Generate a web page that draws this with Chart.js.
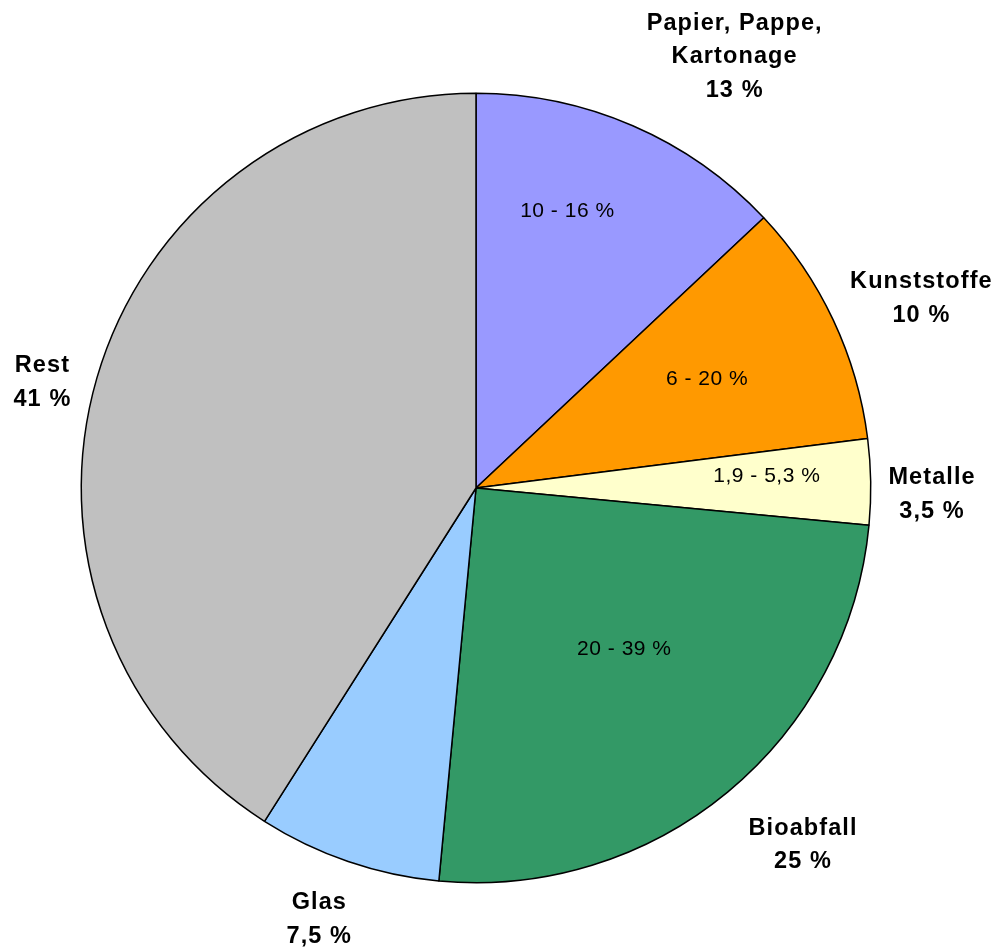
<!DOCTYPE html>
<html>
<head>
<meta charset="utf-8">
<script src="https://cdn.jsdelivr.net/npm/chart.js@4/dist/chart.umd.min.js"></script>
<style>
html,body{margin:0;padding:0;background:#fff;}
#wrap{width:996px;height:951px;}
</style>
</head>
<body>
<div id="wrap"><canvas id="c" width="996" height="951"></canvas></div>
<script>
// ---- data ----
const categories = [['Papier, Pappe,', 'Kartonage'], ['Kunststoffe'], ['Metalle'], ['Bioabfall'], ['Glas'], ['Rest']];
const shares = [13, 10, 3.5, 25, 7.5, 41];
const shareLabels = ['13 %', '10 %', '3,5 %', '25 %', '7,5 %', '41 %'];
const rangeLabels = ['10 - 16 %', '6 - 20 %', '1,9 - 5,3 %', '20 - 39 %', '', ''];

// ---- style / layout ----
const colors = ['#9999FF', '#FF9900', '#FFFFCC', '#339966', '#99CCFF', '#C0C0C0'];
// label placement relative to slice mid-angle: [angle offset in degrees, radius factor]
const outerPlace = [[7.4, 1.277], [1.9, 1.227], [1.5, 1.154], [-3.0, 1.222], [1.2, 1.159], [-2.3, 1.133]];
const innerPlace = [[-5.3, 0.743], [-0.3, 0.648], [-1.8, 0.737], [-3.2, 0.552], [0, 0], [0, 0]];

const FONT = "'Liberation Sans', Arial, sans-serif";

function drawBlock(ctx, lines, cx, cy, size, bold, spacing, lineH) {
  ctx.font = (bold ? 'bold ' : '') + size + 'px ' + FONT;
  ctx.letterSpacing = spacing + 'px';
  ctx.textAlign = 'left';
  ctx.textBaseline = 'alphabetic';
  ctx.fillStyle = '#000';
  const cap = size * 0.716;
  const n = lines.length;
  for (let i = 0; i < n; i++) {
    const mid = cy + (i - (n - 1) / 2) * lineH;
    const w = ctx.measureText(lines[i]).width - spacing;
    ctx.fillText(lines[i], cx - w / 2, mid + cap / 2);
  }
}

const labelPlugin = {
  id: 'labels',
  afterDraw(chart) {
    const ctx = chart.ctx;
    const meta = chart.getDatasetMeta(0);
    ctx.save();
    meta.data.forEach((arc, i) => {
      const p = arc.getProps(['x', 'y', 'startAngle', 'endAngle', 'outerRadius'], true);
      const midA = (p.startAngle + p.endAngle) / 2;
      const R = p.outerRadius;
      const a1 = midA + outerPlace[i][0] * Math.PI / 180;
      const r1 = R * outerPlace[i][1];
      drawBlock(ctx, categories[i].concat([shareLabels[i]]),
        p.x + r1 * Math.cos(a1), p.y + r1 * Math.sin(a1), 23.5, true, 1.1, 33.5);
      if (rangeLabels[i]) {
        const a2 = midA + innerPlace[i][0] * Math.PI / 180;
        const r2 = R * innerPlace[i][1];
        drawBlock(ctx, [rangeLabels[i]], p.x + r2 * Math.cos(a2), p.y + r2 * Math.sin(a2), 21, false, 0.5, 24);
      }
    });
    ctx.restore();
  }
};

new Chart(document.getElementById('c'), {
  type: 'pie',
  data: {
    labels: categories.map(c => c.join(' ')),
    datasets: [{
      data: shares,
      backgroundColor: colors,
      borderColor: '#000',
      borderWidth: 1.5
    }]
  },
  options: {
    responsive: false,
    animation: false,
    layout: { padding: { top: 92.5, bottom: 67.5, left: 2, right: 46 } },
    plugins: { legend: { display: false }, tooltip: { enabled: false } }
  },
  plugins: [labelPlugin]
});
</script>
</body>
</html>
